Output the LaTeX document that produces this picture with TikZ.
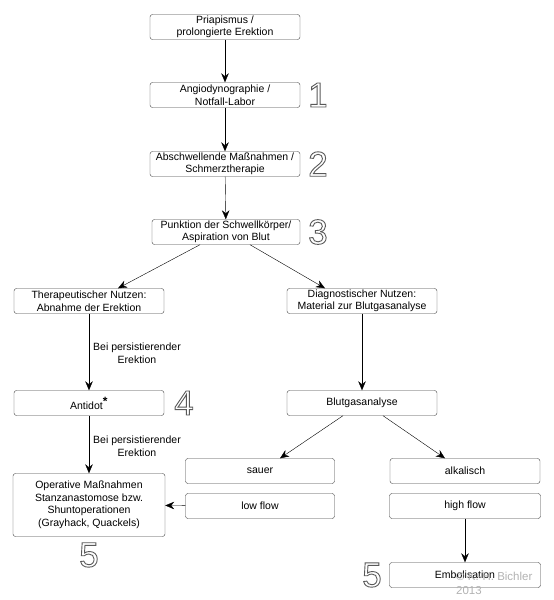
\documentclass[tikz,border=0pt]{standalone}
\usepackage{fontspec}
\setmainfont{Liberation Sans}
\usepackage{tikz}
\usetikzlibrary{arrows.meta}

\newcommand{\stepnum}[1]{{\fontsize{35}{35}\selectfont\special{pdf:literal direct 1 Tr 0.9 w 0.35 0.35 0.35 RG}#1\special{pdf:literal direct 0 Tr}}}

\begin{document}
\begin{tikzpicture}[x=1pt,y=-1pt,
  box/.style={draw=black!75, rounded corners=2.5pt, minimum width=150pt, minimum height=25pt,
    align=center, inner sep=1pt, font=\fontsize{10.5}{12.5}\selectfont},
  arr/.style={-{Stealth[length=9pt,width=7.5pt]}, black},
  note/.style={align=center, font=\fontsize{10.5}{13}\selectfont},
  num/.style={inner sep=0pt}]
\useasboundingbox (0,0) rectangle (554,600);
\node[box] (pria) at (225,27) {Priapismus /\\prolongierte Erektion};
\node[box] (angio) at (225,95) {Angiodynographie /\\Notfall-Labor};
\node[box] (absch) at (225,164) {Abschwellende Maßnahmen /\\Schmerztherapie};
\node[box, minimum width=148pt] (punkt) at (226,232) {Punktion der Schwellkörper/\\Aspiration von Blut};
\node[box] (thera) at (89,301) {Therapeutischer Nutzen:\\Abnahme der Erektion};
\node[box] (diag) at (362,301) {Diagnostischer Nutzen:\\Material zur Blutgasanalyse};
\node[box] (anti) at (89,403) {Antidot\textsuperscript{\large\bfseries *}};
\node[box, minimum width=152pt, minimum height=63pt] (oper) at (89,505)
  {Operative Maßnahmen\\Stanzanastomose bzw.\\Shuntoperationen\\(Grayhack, Quackels)};
\node[box] (bga) at (362,403) {Blutgasanalyse};
\node[box, minimum width=149pt] (sauer) at (260,471) {sauer};
\node[box, minimum width=149pt] (low) at (260,506) {low flow};
\node[box] (alk) at (465,471) {alkalisch};
\node[box, minimum width=151pt] (high) at (465,506) {high flow};
\node[box, minimum width=151pt] (embo) at (465,575) {Embolisation};

\node[note] (bei1) at (137,353) {Bei persistierender\\Erektion};
\node[note] (bei2) at (137,446) {Bei persistierender\\Erektion};

\node[num] (n1) at (318,95) {\stepnum{1}};
\node[num] (n2) at (318,164) {\stepnum{2}};
\node[num] (n3) at (318,232) {\stepnum{3}};
\node[num] (n4) at (184,403) {\stepnum{4}};
\node[num] (n5a) at (89,555) {\stepnum{5}};
\node[num] (n5b) at (372,575) {\stepnum{5}};

\node[text=black!30, align=left, anchor=north west, inner sep=0pt, font=\fontsize{11.5}{14}\selectfont]
  (copy) at (456,572) {© K.-H. Bichler\\2013};

\draw[arr] (pria) -- (angio);
\draw[arr] (angio) -- (absch);
\draw[arr] (absch) -- (punkt);
\draw[arr] ([xshift=-26pt]punkt.south) -- ([xshift=29pt]thera.north);
\draw[arr] ([xshift=24pt]punkt.south) -- ([xshift=-37pt]diag.north);
\draw[arr] (thera) -- (anti);
\draw[arr] (anti) -- (oper);
\draw[arr] (diag) -- (bga);
\draw[arr] ([xshift=-19pt]bga.south) -- ([xshift=20pt]sauer.north);
\draw[arr] ([xshift=21pt]bga.south) -- ([xshift=-20pt]alk.north);
\draw[arr] (low) -- (oper);
\draw[arr] (high) -- (embo);
\end{tikzpicture}
\end{document}
